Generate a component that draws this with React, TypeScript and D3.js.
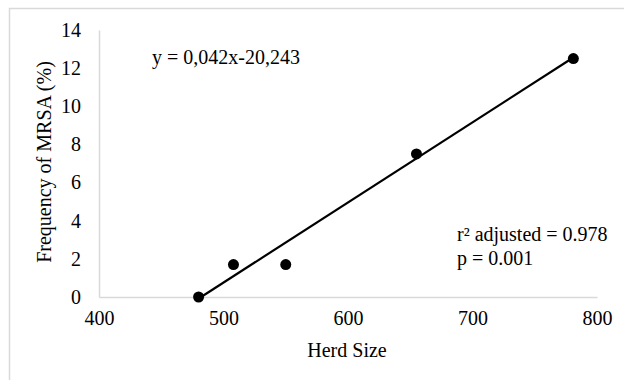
import { useEffect, useRef } from 'react';
import * as d3 from 'd3';

const herdSize = [480, 508, 550, 655, 781];
const mrsaFrequency = [0, 1.7, 1.7, 7.5, 12.5];
const xTicks = [400, 500, 600, 700, 800];
const yTicks = [0, 2, 4, 6, 8, 10, 12, 14];
const slope = 0.042;
const intercept = -20.243;
const equationLabel = 'y = 0,042x-20,243';
const statsLabels = ['r² adjusted = 0.978', 'p = 0.001'];

const width = 624;
const height = 380;
const font = 'Liberation Serif, serif';

export default function App() {
  const svgRef = useRef<SVGSVGElement>(null);

  useEffect(() => {
    if (!svgRef.current) return;
    const svg = d3.select(svgRef.current);
    svg.selectAll('*').remove();

    const x = d3.scaleLinear().domain([400, 800]).range([99, 597]);
    const y = d3.scaleLinear().domain([0, 14]).range([297, 30]);

    // outer frame
    svg
      .append('rect')
      .attr('x', 9.5)
      .attr('y', 8.5)
      .attr('width', width)
      .attr('height', height)
      .attr('fill', 'none')
      .attr('stroke', '#d9d9d9')
      .attr('stroke-width', 1.5);

    const xAxis = d3
      .axisBottom(x)
      .tickValues(xTicks)
      .tickSize(0)
      .tickSizeOuter(0)
      .tickPadding(14)
      .tickFormat((v) => d3.format('d')(Number(v)));

    const yAxis = d3
      .axisLeft(y)
      .tickValues(yTicks)
      .tickSize(0)
      .tickSizeOuter(0)
      .tickPadding(18)
      .tickFormat((v) => d3.format('d')(Number(v)));

    svg
      .append('g')
      .attr('transform', `translate(0,${y(0)})`)
      .call(xAxis)
      .call((g) => {
        g.attr('font-family', null).attr('font-size', null);
        g.select('.domain').attr('stroke', '#d9d9d9').attr('stroke-width', 1.5);
        g.selectAll('.tick text').attr('fill', '#000');
      });

    svg
      .append('g')
      .attr('transform', `translate(${x(400)},0)`)
      .call(yAxis)
      .call((g) => {
        g.attr('font-family', null).attr('font-size', null);
        g.select('.domain').attr('stroke', '#d9d9d9').attr('stroke-width', 1.5);
        g.selectAll('.tick text').attr('fill', '#000');
      });

    // trend line over the data range
    const [xMin, xMax] = d3.extent(herdSize) as [number, number];
    const line = d3
      .line<number>()
      .x((d) => x(d))
      .y((d) => y(slope * d + intercept));
    svg
      .append('path')
      .attr('d', line([xMin + 2, xMax]))
      .attr('stroke', '#000')
      .attr('stroke-width', 2.2)
      .attr('fill', 'none');

    svg
      .append('g')
      .selectAll('circle')
      .data(herdSize)
      .join('circle')
      .attr('cx', (d) => x(d))
      .attr('cy', (_, i) => y(mrsaFrequency[i]))
      .attr('r', 5.5)
      .attr('fill', '#000');

    svg
      .append('text')
      .attr('x', 152)
      .attr('y', 64)
      .attr('fill', '#000')
      .text(equationLabel);

    svg
      .append('g')
      .selectAll('text')
      .data(statsLabels)
      .join('text')
      .attr('x', 457)
      .attr('y', (_, i) => 241 + i * 24)
      .attr('fill', '#000')
      .text((d) => d);

    svg
      .append('text')
      .attr('x', 347)
      .attr('y', 357)
      .attr('text-anchor', 'middle')
      .attr('fill', '#000')
      .text('Herd Size');

    svg
      .append('text')
      .attr('transform', `translate(51,162) rotate(-90)`)
      .attr('text-anchor', 'middle')
      .attr('fill', '#000')
      .text('Frequency of MRSA (%)');
  }, []);

  return (
    <svg
      ref={svgRef}
      width={width}
      height={height}
      viewBox={`0 0 ${width} ${height}`}
      style={{
        position: 'absolute',
        left: 0,
        top: 0,
        background: '#fff',
        fontFamily: font,
        fontSize: 20,
      }}
    />
  );
}
